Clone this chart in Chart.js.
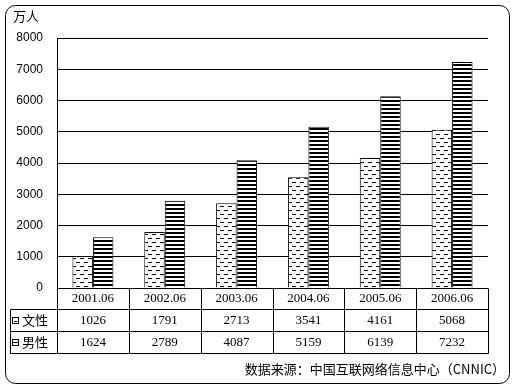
<!DOCTYPE html>
<html>
<head>
<meta charset="utf-8">
<script src="https://cdn.jsdelivr.net/npm/chart.js@4"></script>
<style>
  body { margin: 0; background: #fff; }
  canvas { display: block; }
</style>
</head>
<body>
<canvas id="chart" width="516" height="389"></canvas>
<script>
const periods = ['2001.06', '2002.06', '2003.06', '2004.06', '2005.06', '2006.06']
const female = [1026, 1791, 2713, 3541, 4161, 5068]
const male = [1624, 2789, 4087, 5159, 6139, 7232]
const seriesNames = ['文性', '男性']
const unitLabel = '万人'
const sourceNote = '数据来源：中国互联网络信息中心（CNNIC）'

const numFont = '13px "Liberation Serif", serif'
const cjkFont = '13px "Noto Sans CJK SC", sans-serif'

function stripePattern() {
  const c = document.createElement('canvas')
  c.width = 4; c.height = 4
  const g = c.getContext('2d')
  g.fillStyle = '#fff'; g.fillRect(0, 0, 4, 4)
  g.fillStyle = '#000'; g.fillRect(0, 0, 4, 2)
  return g.createPattern(c, 'repeat')
}

function dashPattern() {
  const c = document.createElement('canvas')
  c.width = 8; c.height = 8
  const g = c.getContext('2d')
  g.fillStyle = '#fff'; g.fillRect(0, 0, 8, 8)
  g.fillStyle = '#000'
  g.fillRect(0, 2, 4, 1)
  g.fillRect(4, 6, 4, 1)
  return g.createPattern(c, 'repeat')
}

// frame, unit label, data table and source line
const extras = {
  id: 'extras',
  afterDraw(chart) {
    const ctx = chart.ctx
    const area = chart.chartArea
    const x = chart.scales.x
    const right = Math.round(area.right) + 0.5
    const rows = [Math.round(area.bottom) + 0.5, 309.5, 331.5, 353.5]
    ctx.save()
    ctx.strokeStyle = '#000'
    ctx.lineWidth = 1

    // rounded outer frame
    ctx.beginPath()
    ctx.roundRect(5.5, 5.5, 504, 378, 10)
    ctx.stroke()

    // table lines
    ctx.beginPath()
    ctx.moveTo(10.5, rows[1]); ctx.lineTo(right, rows[1])
    ctx.moveTo(10.5, rows[2]); ctx.lineTo(right, rows[2])
    ctx.moveTo(10.5, rows[3]); ctx.lineTo(right, rows[3])
    ctx.moveTo(10.5, rows[1]); ctx.lineTo(10.5, rows[3])
    const step = (area.right - area.left) / periods.length
    for (let i = 0; i <= periods.length; i++) {
      const vx = Math.round(area.left + step * i) + 0.5
      ctx.moveTo(vx, rows[0]); ctx.lineTo(vx, rows[3])
    }
    ctx.stroke()

    ctx.fillStyle = '#000'
    ctx.textAlign = 'center'
    ctx.textBaseline = 'middle'
    ctx.font = numFont
    periods.forEach((p, i) => {
      const cx = x.getPixelForValue(i)
      ctx.fillText(p, cx, 299)
      ctx.fillText(String(female[i]), cx, 321)
      ctx.fillText(String(male[i]), cx, 343)
    })

    // series labels with swatches
    ctx.textAlign = 'left'
    ctx.font = cjkFont
    ctx.fillText(seriesNames[0], 22, 320)
    ctx.fillText(seriesNames[1], 22, 342)
    ctx.fillStyle = '#fff'
    ctx.fillRect(12, 317, 7, 7)
    ctx.fillRect(12, 339, 7, 7)
    ctx.strokeRect(12.5, 317.5, 6, 6)
    ctx.strokeRect(12.5, 339.5, 6, 6)
    ctx.fillStyle = '#000'
    ctx.fillRect(14, 321, 3, 1)
    ctx.fillRect(13, 342, 5, 1)

    ctx.fillText(unitLabel, 13, 16)
    ctx.textAlign = 'right'
    ctx.fillText(sourceNote, 505, 369)
    ctx.restore()
  }
}

new Chart(document.getElementById('chart'), {
  type: 'bar',
  data: {
    labels: periods,
    datasets: [
      {
        label: seriesNames[0],
        data: female,
        backgroundColor: dashPattern(),
        borderColor: '#000',
        borderWidth: 1
      },
      {
        label: seriesNames[1],
        data: male,
        backgroundColor: stripePattern(),
        borderColor: '#000',
        borderWidth: 1
      }
    ]
  },
  options: {
    responsive: false,
    animation: false,
    layout: { padding: { left: 0, top: 38, right: 28, bottom: 101 } },
    datasets: { bar: { categoryPercentage: 0.57, barPercentage: 1 } },
    plugins: {
      legend: { display: false },
      tooltip: { enabled: false }
    },
    scales: {
      x: { display: false },
      y: {
        min: 0,
        max: 8000,
        ticks: {
          stepSize: 1000,
          color: '#000',
          padding: 14,
          font: { family: '"Liberation Sans", sans-serif', size: 12 },
          callback: (v) => String(v)
        },
        grid: { color: '#000', lineWidth: 1, drawTicks: false },
        border: { display: true, color: '#000' },
        afterFit: (s) => { s.width = 57 }
      }
    }
  },
  plugins: [extras]
})
</script>
</body>
</html>
